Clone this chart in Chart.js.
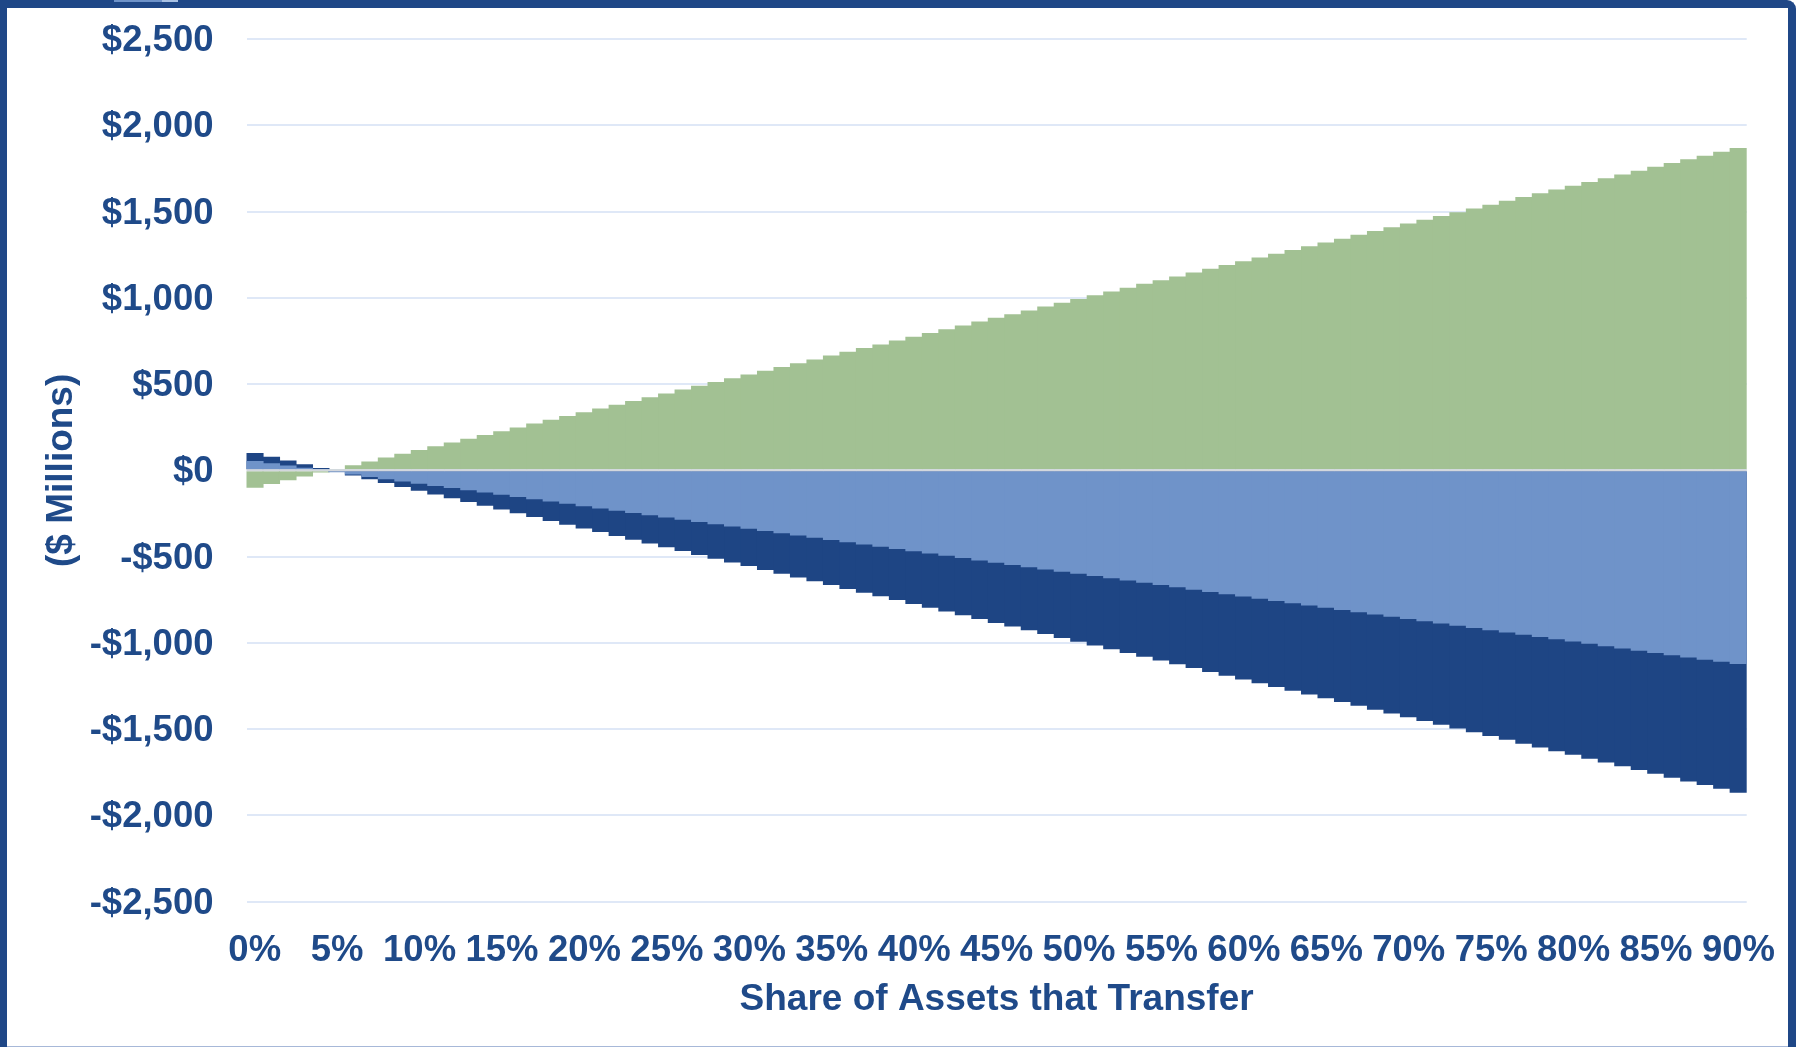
<!DOCTYPE html>
<html>
<head>
<meta charset="utf-8">
<title>Share of Assets that Transfer</title>
<script src="https://cdn.jsdelivr.net/npm/chart.js@4.4.1/dist/chart.umd.min.js"></script>
<style>
  html, body { margin: 0; padding: 0; background: #fff; }
  #wrap { position: absolute; left: 0; top: 0; width: 1801px; height: 1047px; overflow: hidden; background: #fff; }
  #frame {
    position: absolute; left: 0; top: 0;
    width: 1781px; height: 1039px;
    border: 8px solid #1f4787; border-left-width: 7px; border-bottom: none;
    border-top-right-radius: 9px;
    pointer-events: none;
  }
  #frameBottom { position: absolute; left: 7px; top: 1046px; width: 1781px; height: 1px; background: #a7b8d8; }
  .strip { position: absolute; top: 0; height: 2px; }
</style>
</head>
<body>
<div id="wrap">
  <canvas id="transferChart"></canvas>
  <div id="frame"></div>
  <div id="frameBottom"></div>
  <div class="strip" style="left:114px;width:48px;background:#6f93c9"></div>
  <div class="strip" style="left:162px;width:16px;background:#a9c1e3"></div>
</div>
<script>
// share of assets (x axis categories, 1% steps)
const categories = [
  '0%','1%','2%','3%','4%','5%','6%','7%','8%','9%',
  '10%','11%','12%','13%','14%','15%','16%','17%','18%','19%',
  '20%','21%','22%','23%','24%','25%','26%','27%','28%','29%',
  '30%','31%','32%','33%','34%','35%','36%','37%','38%','39%',
  '40%','41%','42%','43%','44%','45%','46%','47%','48%','49%',
  '50%','51%','52%','53%','54%','55%','56%','57%','58%','59%',
  '60%','61%','62%','63%','64%','65%','66%','67%','68%','69%',
  '70%','71%','72%','73%','74%','75%','76%','77%','78%','79%',
  '80%','81%','82%','83%','84%','85%','86%','87%','88%','89%',
  '90%'
];

// only these categories get a label under the axis
const xTickLabels = ['0%','5%','10%','15%','20%','25%','30%','35%','40%','45%',
  '50%','55%','60%','65%','70%','75%','80%','85%','90%'];

const yTicks = [-2500, -2000, -1500, -1000, -500, 0, 500, 1000, 1500, 2000, 2500];
const yTickLabels = ['-$2,500','-$2,000','-$1,500','-$1,000','-$500','$0',
  '$500','$1,000','$1,500','$2,000','$2,500'];

// $ millions per share level
const greenValues = [
  -101, -79, -57, -35, -13, 8, 30, 52, 74, 96,
  118, 140, 162, 183, 205, 227, 249, 271, 293, 315,
  337, 358, 380, 402, 424, 446, 468, 490, 512, 534,
  555, 577, 599, 621, 643, 665, 687, 709, 730, 752,
  774, 796, 818, 840, 862, 884, 905, 927, 949, 971,
  993, 1015, 1037, 1059, 1081, 1102, 1124, 1146, 1168, 1190,
  1212, 1234, 1256, 1277, 1299, 1321, 1343, 1365, 1387, 1409,
  1431, 1452, 1474, 1496, 1518, 1540, 1562, 1584, 1606, 1628,
  1649, 1671, 1693, 1715, 1737, 1759, 1781, 1803, 1824, 1846,
  1868
];

const lightBlueValues = [
  54, 41, 28, 15, 2, -11, -24, -38, -51, -64,
  -77, -90, -103, -116, -129, -142, -155, -168, -181, -194,
  -208, -221, -234, -247, -260, -273, -286, -299, -312, -325,
  -338, -351, -365, -378, -391, -404, -417, -430, -443, -456,
  -469, -482, -495, -508, -522, -535, -548, -561, -574, -587,
  -600, -613, -626, -639, -652, -665, -678, -692, -705, -718,
  -731, -744, -757, -770, -783, -796, -809, -822, -835, -849,
  -862, -875, -888, -901, -914, -927, -940, -953, -966, -979,
  -992, -1005, -1019, -1032, -1045, -1058, -1071, -1084, -1097, -1110,
  -1123
];

const navyValues = [
  101, 79, 57, 35, 13, -8, -30, -52, -74, -96,
  -118, -140, -162, -183, -205, -227, -249, -271, -293, -315,
  -337, -358, -380, -402, -424, -446, -468, -490, -512, -534,
  -555, -577, -599, -621, -643, -665, -687, -709, -730, -752,
  -774, -796, -818, -840, -862, -884, -905, -927, -949, -971,
  -993, -1015, -1037, -1059, -1081, -1102, -1124, -1146, -1168, -1190,
  -1212, -1234, -1256, -1277, -1299, -1321, -1343, -1365, -1387, -1409,
  -1431, -1452, -1474, -1496, -1518, -1540, -1562, -1584, -1606, -1628,
  -1649, -1671, -1693, -1715, -1737, -1759, -1781, -1803, -1824, -1846,
  -1868
];

const textColor = '#1f4a89';

document.addEventListener('DOMContentLoaded', function() {
    const canvas = document.getElementById('transferChart');
    canvas.width = 1801;
    canvas.height = 1047;

    // light line along $0, drawn over the bars
    const zeroLine = {
        id: 'zeroLine',
        afterDatasetsDraw(chart) {
            const { ctx, chartArea, scales } = chart;
            const y = scales.y.getPixelForValue(0);
            ctx.save();
            ctx.strokeStyle = '#d3d7dd';
            ctx.lineWidth = 2;
            ctx.beginPath();
            ctx.moveTo(chartArea.left, y);
            ctx.lineTo(chartArea.right, y);
            ctx.stroke();
            ctx.restore();
        }
    };

    // bars a touch wider than their slot so neighbours overlap and leave no seams
    const barStyle = {
        grouped: false,
        categoryPercentage: 1.07,
        barPercentage: 1,
        borderWidth: 0
    };

    new Chart(canvas.getContext('2d'), {
        type: 'bar',
        data: {
            labels: categories,
            datasets: [
                // first dataset is painted on top
                Object.assign({ data: lightBlueValues, backgroundColor: '#6f93c9' }, barStyle),
                Object.assign({ data: navyValues, backgroundColor: '#1e4584' }, barStyle),
                Object.assign({ data: greenValues, backgroundColor: '#a2c193' }, barStyle)
            ]
        },
        options: {
            responsive: true,
            maintainAspectRatio: false,
            animation: false,
            layout: { padding: { left: 40, right: 54.3, top: 39, bottom: 0 } },
            plugins: { legend: { display: false }, tooltip: { enabled: false } },
            scales: {
                x: {
                    grid: { display: false, drawTicks: false },
                    border: { display: false },
                    ticks: {
                        autoSkip: false,
                        maxRotation: 0,
                        minRotation: 0,
                        padding: 27.7,
                        color: textColor,
                        font: { family: "'Liberation Sans', Arial, sans-serif", size: 36.5, weight: 'bold', lineHeight: 1.2 },
                        callback: function(value, index) {
                            const label = categories[index];
                            return xTickLabels.includes(label) ? label : '';
                        }
                    },
                    title: {
                        display: true,
                        text: 'Share of Assets that Transfer',
                        color: textColor,
                        padding: { top: 0, bottom: 25.3 },
                        font: { family: "'Liberation Sans', Arial, sans-serif", size: 37, weight: 'bold', lineHeight: 1.2 }
                    },
                    afterFit: function(scale) {
                        scale.height = 145.3;
                        scale.paddingLeft = 0;
                        scale.paddingRight = 0;
                    }
                },
                y: {
                    min: -2500,
                    max: 2500,
                    grid: { color: '#dfe8f7', lineWidth: 2, drawTicks: false },
                    border: { display: false },
                    afterBuildTicks: function(scale) {
                        scale.ticks = yTicks.map(v => ({ value: v }));
                    },
                    ticks: {
                        padding: 33,
                        labelOffset: 2,
                        color: textColor,
                        font: { family: "'Liberation Sans', Arial, sans-serif", size: 36.5, weight: 'bold', lineHeight: 1.2 },
                        callback: function(value) {
                            return yTickLabels[yTicks.indexOf(value)];
                        }
                    },
                    title: {
                        display: true,
                        text: '($ Millions)',
                        color: textColor,
                        padding: { top: 0, bottom: 0 },
                        font: { family: "'Liberation Sans', Arial, sans-serif", size: 37, weight: 'bold', lineHeight: 1.2 }
                    },
                    afterFit: function(scale) {
                        scale.width = 206.5;
                        // tick padding would otherwise push the plot top down
                        scale.paddingTop = 0;
                        scale.paddingBottom = 0;
                    }
                }
            }
        },
        plugins: [zeroLine]
    });
});
</script>
</body>
</html>
